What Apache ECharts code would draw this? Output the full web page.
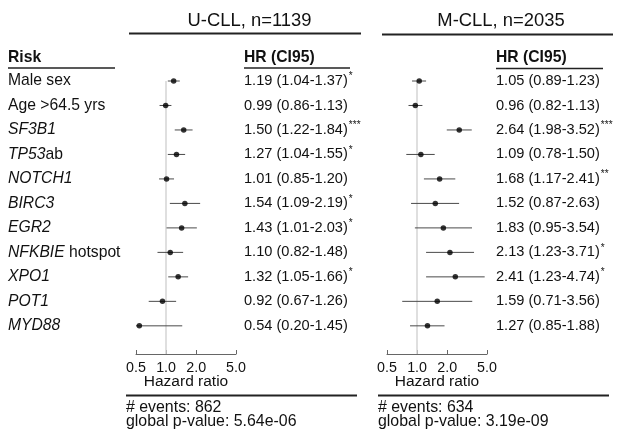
<!DOCTYPE html>
<html>
<head>
<meta charset="utf-8">
<script src="https://cdn.jsdelivr.net/npm/echarts@6/dist/echarts.min.js"></script>
<style>
  html, body { margin: 0; padding: 0; background: #fff; }
  #chart { width: 629px; height: 433px; }
</style>
</head>
<body>
<div id="chart"></div>
<script>
// forest plot, two cohorts side by side (log HR axis)

var riskGene   = ['', '', 'SF3B1', 'TP53', 'NOTCH1', 'BIRC3', 'EGR2', 'NFKBIE', 'XPO1', 'POT1', 'MYD88'];
var riskSuffix = ['Male sex', 'Age >64.5 yrs', '', 'ab', '', '', '', ' hotspot', '', '', ''];

// U-CLL
var uHr  = [1.19, 0.99, 1.50, 1.27, 1.01, 1.54, 1.43, 1.10, 1.32, 0.92, 0.54];
var uLo  = [1.04, 0.86, 1.22, 1.04, 0.85, 1.09, 1.01, 0.82, 1.05, 0.67, 0.20];
var uHi  = [1.37, 1.13, 1.84, 1.55, 1.20, 2.19, 2.03, 1.48, 1.66, 1.26, 1.45];
var uSig = ['*', '', '***', '*', '', '*', '*', '', '*', '', ''];

// M-CLL
var mHr  = [1.05, 0.96, 2.64, 1.09, 1.68, 1.52, 1.83, 2.13, 2.41, 1.59, 1.27];
var mLo  = [0.89, 0.82, 1.98, 0.78, 1.17, 0.87, 0.95, 1.23, 1.23, 0.71, 0.85];
var mHi  = [1.23, 1.13, 3.52, 1.50, 2.41, 2.63, 3.54, 3.71, 4.74, 3.56, 1.88];
var mSig = ['', '', '***', '', '**', '', '', '*', '*', '', ''];

var hrTicks = [0.5, 1, 2, 5];

var panels = [
  { title: 'U-CLL, n=1139', events: 862, pval: '5.64e-06' },
  { title: 'M-CLL, n=2035', events: 634, pval: '3.19e-09' }
];

var FONT = '"Liberation Sans", Arial, sans-serif';
var INK = '#111';

function isRow(v) {
  return Math.abs(v - Math.round(v)) < 1e-6 && Math.round(v) >= 0 && Math.round(v) < riskGene.length;
}

function riskLabel(v) {
  if (!isRow(v)) return '';
  var i = Math.round(v);
  var s = '';
  if (riskGene[i]) s += '{i|' + riskGene[i] + '}';
  if (riskSuffix[i]) s += '{n|' + riskSuffix[i] + '}';
  return s;
}

function hrLabel(hr, lo, hi, sig) {
  return function (v) {
    if (!isRow(v)) return '';
    var i = Math.round(v);
    var s = '{t|' + hr[i].toFixed(2) + ' (' + lo[i].toFixed(2) + '-' + hi[i].toFixed(2) + ')}';
    if (sig[i]) s += '{s|' + sig[i] + '}';
    return s;
  };
}

var hrRich = {
  t: { fontSize: 14.6, fontFamily: FONT, color: INK },
  s: { fontSize: 10, fontFamily: FONT, color: INK, verticalAlign: 'top', padding: [-2, 0, 0, 1] }
};

function rowAxis(gridIndex, position, margin, formatter, rich) {
  return {
    type: 'value', gridIndex: gridIndex, position: position,
    min: 0, max: 11.15, interval: 1, inverse: true,
    axisLine: { show: false }, axisTick: { show: false }, splitLine: { show: false },
    axisLabel: { show: true, align: 'left', margin: margin, formatter: formatter, rich: rich }
  };
}

function hrAxis(gridIndex) {
  return {
    type: 'log', logBase: 2, gridIndex: gridIndex, min: 0.5, max: 5, position: 'bottom',
    name: 'Hazard ratio', nameLocation: 'middle', nameGap: 19.5, nameMoveOverlap: false,
    nameTextStyle: { fontSize: 15.5, fontFamily: FONT, color: INK },
    axisLine: { show: true, onZero: false, lineStyle: { color: '#666', width: 1 } },
    axisTick: { show: true, inside: true, length: 4, customValues: hrTicks, lineStyle: { color: '#666' } },
    axisLabel: {
      customValues: hrTicks, margin: 7, fontSize: 14.3, fontFamily: FONT, color: INK,
      formatter: function (v) { return Number(v).toFixed(1); }
    },
    splitLine: { show: false }, minorTick: { show: false }
  };
}

function ciSeries(xi, yi, hr, lo, hi) {
  return {
    type: 'custom', xAxisIndex: xi, yAxisIndex: yi, z: 3,
    data: hr.map(function (v, i) { return [lo[i], hi[i], i]; }),
    encode: { x: [0, 1], y: 2 },
    renderItem: function (params, api) {
      var a = api.coord([api.value(0), api.value(2)]);
      var b = api.coord([api.value(1), api.value(2)]);
      var cs = params.coordSys;
      return {
        type: 'line',
        shape: { x1: Math.max(a[0], cs.x), y1: a[1], x2: Math.min(b[0], cs.x + cs.width), y2: b[1] },
        style: { stroke: '#4a4a4a', lineWidth: 1 }
      };
    }
  };
}

function pointSeries(xi, yi, hr) {
  return {
    type: 'scatter', xAxisIndex: xi, yAxisIndex: yi, z: 4,
    symbol: 'circle', symbolSize: 5.5,
    itemStyle: { color: '#000' },
    data: hr.map(function (v, i) { return [v, i]; }),
    markLine: {
      silent: true, symbol: 'none', z: 1,
      label: { show: false },
      lineStyle: { color: '#d4d4d4', type: 'solid', width: 1.5 },
      data: [{ xAxis: 1 }]
    }
  };
}

function txt(x, y, text, size, bold, align) {
  return {
    type: 'text', x: x, y: y, silent: true,
    style: {
      text: text, fill: INK, font: (bold ? 'bold ' : '') + size + 'px ' + FONT,
      align: align || 'left', verticalAlign: 'middle'
    }
  };
}

function rule(x1, x2, y, w) {
  return { type: 'line', silent: true, shape: { x1: x1, y1: y, x2: x2, y2: y }, style: { stroke: '#222', lineWidth: w } };
}

var chart = echarts.init(document.getElementById('chart'));

chart.setOption({
  backgroundColor: '#fff',
  animation: false,
  grid: [
    { left: 136, width: 100, top: 81, height: 273, outerBoundsMode: 'none' },
    { left: 387, width: 100, top: 81, height: 273, outerBoundsMode: 'none' }
  ],
  xAxis: [hrAxis(0), hrAxis(1)],
  yAxis: [
    rowAxis(0, 'left', 128, riskLabel, {
      i: { fontSize: 15.7, fontFamily: FONT, fontStyle: 'italic', color: INK },
      n: { fontSize: 15.7, fontFamily: FONT, color: INK }
    }),
    rowAxis(0, 'right', 8, hrLabel(uHr, uLo, uHi, uSig), hrRich),
    rowAxis(1, 'right', 9, hrLabel(mHr, mLo, mHi, mSig), hrRich)
  ],
  series: [
    ciSeries(0, 0, uHr, uLo, uHi),
    pointSeries(0, 0, uHr),
    ciSeries(1, 2, mHr, mLo, mHi),
    pointSeries(1, 2, mHr)
  ],
  graphic: [
    txt(249.5, 21, panels[0].title, 18.4, false, 'center'),
    rule(129, 361, 33.5, 2),
    txt(501, 21, panels[1].title, 18.4, false, 'center'),
    rule(382, 613, 34.5, 2),

    txt(8, 57.5, 'Risk', 15.7, true),
    rule(8, 115, 68, 1.3),
    txt(244, 57.5, 'HR (CI95)', 15.7, true),
    rule(244, 350, 68, 1.3),
    txt(496, 57.5, 'HR (CI95)', 15.7, true),
    rule(496, 603, 68.5, 1.3),

    rule(126, 357, 395.5, 2),
    txt(126, 408, '# events: ' + panels[0].events, 15.9),
    txt(126, 421.5, 'global p-value: ' + panels[0].pval, 15.9),
    rule(378, 609, 395.5, 2),
    txt(378, 408, '# events: ' + panels[1].events, 15.9),
    txt(378, 421.5, 'global p-value: ' + panels[1].pval, 15.9)
  ]
});
</script>
</body>
</html>
